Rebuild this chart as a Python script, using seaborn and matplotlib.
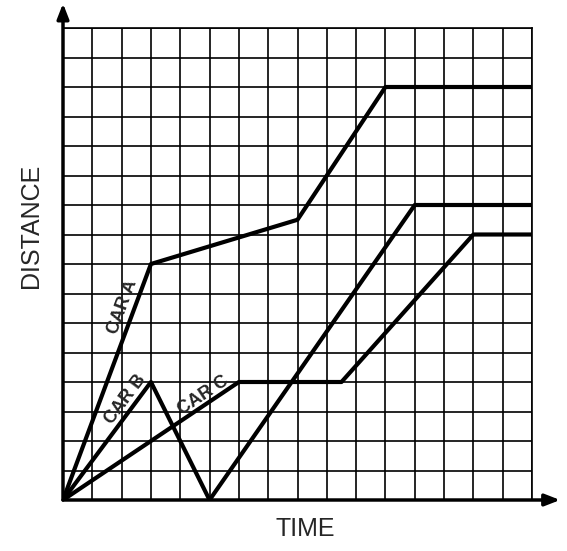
import numpy as np
import pandas as pd
import seaborn as sns
import matplotlib
matplotlib.use("Agg")
import matplotlib.pyplot as plt

# distance-time readings (grid units) for each car
car_a_time = [0, 3, 8, 11, 16]
car_a_dist = [0, 8, 9.5, 14, 14]
car_b_time = [0, 3, 5, 12, 16]
car_b_dist = [0, 4, 0, 10, 10]
car_c_time = [0, 6, 9.5, 14, 16]
car_c_dist = [0, 4, 4, 9, 9]

car_names = ["CAR A", "CAR B", "CAR C"]
# where each label sits along its first segment
label_pos = {"CAR A": (2.05, 6.55), "CAR B": (2.12, 3.4), "CAR C": (4.8, 3.56)}

df = pd.concat([
    pd.DataFrame({"time": car_a_time, "distance": car_a_dist, "car": "CAR A"}),
    pd.DataFrame({"time": car_b_time, "distance": car_b_dist, "car": "CAR B"}),
    pd.DataFrame({"time": car_c_time, "distance": car_c_dist, "car": "CAR C"}),
])

sns.set_style("white")
plt.rcParams["font.family"] = ["Liberation Sans", "DejaVu Sans"]

fig = plt.figure(figsize=(5.67, 5.51), dpi=100)
ax = fig.add_axes([63 / 567, 51 / 551, 469 / 567, 472 / 551])

sns.lineplot(data=df, x="time", y="distance", hue="car", units="car",
             estimator=None, sort=False, palette={c: "black" for c in car_names},
             linewidth=3, legend=False, ax=ax, zorder=3)

ax.set_xlim(0, 16)
ax.set_ylim(0, 16)
ax.set_xticks(np.arange(0, 17))
ax.set_yticks(np.arange(0, 17))
ax.tick_params(length=0, labelbottom=False, labelleft=False)
ax.grid(True, color="black", linewidth=1.2)
for side in ["top", "right"]:
    ax.spines[side].set_linewidth(1.2)
    ax.spines[side].set_color("black")
for side in ["left", "bottom"]:
    ax.spines[side].set_visible(False)

# axis arrows sticking out past the grid
ax.annotate("", xy=(0, 1.052), xytext=(0, 0), xycoords="axes fraction",
            arrowprops=dict(arrowstyle="-|>,head_width=0.35,head_length=0.9",
                            color="black", lw=2.5, shrinkA=0, shrinkB=0),
            annotation_clip=False)
ax.annotate("", xy=(1.06, 0), xytext=(0, 0), xycoords="axes fraction",
            arrowprops=dict(arrowstyle="-|>,head_width=0.35,head_length=0.9",
                            color="black", lw=2.5, shrinkA=0, shrinkB=0),
            annotation_clip=False)

ax.set_xlabel("TIME", fontsize=18)
ax.set_ylabel("DISTANCE", fontsize=18)
ax.xaxis.set_label_coords(0.516, -0.035)
ax.yaxis.set_label_coords(-0.043, 0.58)

firsts = {"CAR A": (car_a_time, car_a_dist), "CAR B": (car_b_time, car_b_dist),
          "CAR C": (car_c_time, car_c_dist)}
for name in car_names:
    t, d = firsts[name]
    angle = np.degrees(np.arctan2(d[1] - d[0], t[1] - t[0]))
    x, y = label_pos[name]
    ax.text(x, y, name, rotation=angle, rotation_mode="anchor",
            ha="center", va="center", fontsize=13, fontweight="bold", zorder=4)

fig.savefig("out.png", dpi=100)
